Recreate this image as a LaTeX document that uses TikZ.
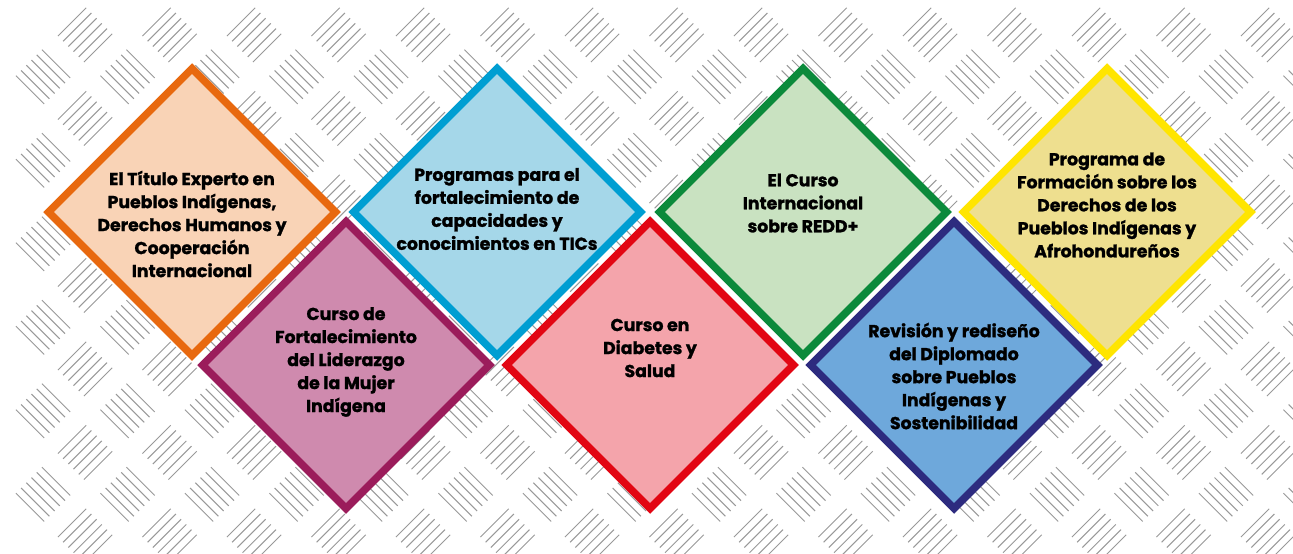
\documentclass[tikz,border=0pt]{standalone}
\usepackage{fontspec}
\setmainfont{Poppins}[BoldFeatures={FakeBold=1.3}]
\usetikzlibrary{shapes.geometric}

\definecolor{naranja}{HTML}{E8690F}
\definecolor{naranjaclaro}{HTML}{F9D3B6}
\definecolor{celeste}{HTML}{009ED2}
\definecolor{celesteclaro}{HTML}{A5D7E9}
\definecolor{verde}{HTML}{0B8A3B}
\definecolor{verdeclaro}{HTML}{C9E2C1}
\definecolor{amarillo}{HTML}{FFE500}
\definecolor{amarilloclaro}{HTML}{EEDF8F}
\definecolor{morado}{HTML}{9B1C5B}
\definecolor{moradoclaro}{HTML}{CF8AAE}
\definecolor{rojo}{HTML}{E20613}
\definecolor{rojoclaro}{HTML}{F4A4AB}
\definecolor{azul}{HTML}{2D2B7F}
\definecolor{azulclaro}{HTML}{6EA8DB}

\begin{document}
\begin{tikzpicture}[x=1pt, y=-1pt,
  rombo/.style={diamond, aspect=1, minimum width=290pt, minimum height=290pt, inner sep=0pt, line width=7.5pt},
  texto/.style={align=center, font=\bfseries\fontsize{17.3}{23}\selectfont, text=black},
  raya/.style={line width=1pt, draw=gray!80}]
\useasboundingbox (0,0) rectangle (1293,554);
\fill[white] (0,0) rectangle (1293,554);

% fondo de placa
\begin{scope}
\clip (0,0) rectangle (1293,554);
\foreach \i in {0,...,14}
  \foreach \j in {0,...,6}
    \foreach \k in {-2.5,-1.5,...,2.5}
      \draw[raya] ({85+84.5*\i+5.2*\k-14.1},{35+83.5*\j+5.2*\k+14.1}) -- ++(28.3,-28.3);
\foreach \i in {0,...,15}
  \foreach \j in {0,...,5}
    \foreach \k in {-2.5,-1.5,...,2.5}
      \draw[raya] ({43+84.5*\i+5.2*\k-14.1},{76.75+83.5*\j-5.2*\k-14.1}) -- ++(28.3,28.3);
\end{scope}

% fila de arriba
\node[rombo, draw=naranja, fill=naranjaclaro] (titulo) at (192,212) {};
\node[texto] (titulo-t) at (192,224) {El Título Experto en\\Pueblos Indígenas,\\Derechos Humanos y\\Cooperación\\Internacional};
\node[rombo, draw=celeste, fill=celesteclaro] (tics) at (497,212) {};
\node[texto] (tics-t) at (497,209) {Programas para el\\fortalecimiento de\\capacidades y\\conocimientos en TICs};
\node[rombo, draw=verde, fill=verdeclaro] (redd) at (803,212) {};
\node[texto] (redd-t) at (803,203) {El Curso\\Internacional\\sobre REDD+};
\node[rombo, draw=amarillo, fill=amarilloclaro] (formacion) at (1107,212) {};
\node[texto] (formacion-t) at (1107,205) {Programa de\\Formación sobre los\\Derechos de los\\Pueblos Indígenas y\\Afrohondureños};

% fila de abajo
\node[rombo, draw=morado, fill=moradoclaro] (mujer) at (346,365) {};
\node[texto] (mujer-t) at (346,362) {Curso de\\Fortalecimiento\\del Liderazgo\\de la Mujer\\Indígena};
\node[rombo, draw=rojo, fill=rojoclaro] (diabetes) at (650,365) {};
\node[texto] (diabetes-t) at (650,348) {Curso en\\Diabetes y\\Salud};
\node[rombo, draw=azul, fill=azulclaro] (diplomado) at (954,365) {};
\node[texto] (diplomado-t) at (954,376) {Revisión y rediseño\\del Diplomado\\sobre Pueblos\\Indígenas y\\Sostenibilidad};
\end{tikzpicture}
\end{document}
